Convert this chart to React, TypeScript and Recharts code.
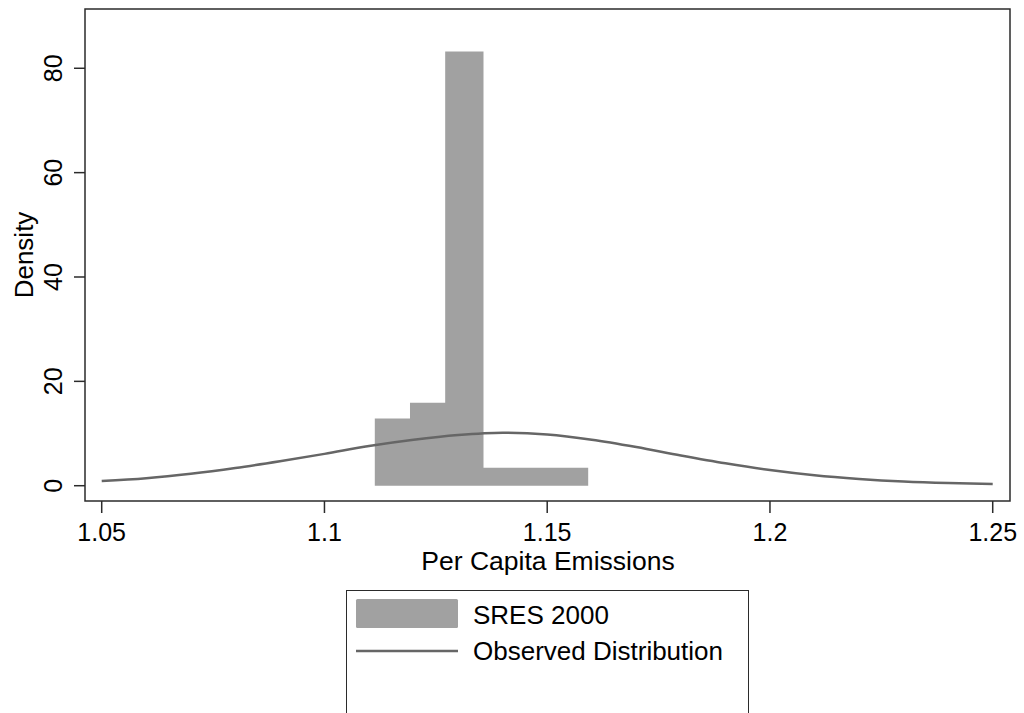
import {
  Area,
  ComposedChart,
  Legend,
  Line,
  ReferenceArea,
  XAxis,
  YAxis,
} from "recharts";

// histogram bins (edges + density heights)
const binEdges = [1.1113, 1.1192, 1.1271, 1.1357, 1.1435, 1.1514, 1.1592];
const binDensity = [12.9, 15.9, 83.2, 3.45, 3.45, 3.45];

// observed distribution curve, sampled every 0.01
const curveX = [
  1.05, 1.06, 1.07, 1.08, 1.09, 1.1, 1.11, 1.12, 1.13, 1.14, 1.15, 1.16, 1.17,
  1.18, 1.19, 1.2, 1.21, 1.22, 1.23, 1.24, 1.25,
];
const curveY = [
  0.9, 1.45, 2.3, 3.4, 4.7, 6.1, 7.6, 8.8, 9.7, 10.15, 9.8, 8.8, 7.4, 5.8, 4.3,
  3.0, 2.0, 1.3, 0.8, 0.5, 0.33,
];

const xTicks = [1.05, 1.1, 1.15, 1.2, 1.25];
const yTicks = [0, 20, 40, 60, 80];
const xDomain = [1.04625, 1.25388];
const yDomain = [-2.93, 91.36];

const FONT = '"Liberation Sans", Arial, Helvetica, sans-serif';
const BAR = "#a1a1a1";
const CURVE = "#666666";
const FRAME = "#2b2b2b";

type Row = { x: number; hist: number | null; dens: number | null };

const rows: Row[] = [];
binEdges.forEach((x, i) => {
  rows.push({ x, hist: binDensity[Math.min(i, binDensity.length - 1)], dens: null });
});
curveX.forEach((x, i) => {
  rows.push({ x, hist: null, dens: curveY[i] });
});
rows.sort((a, b) => a.x - b.x);

function XTick(props: any) {
  const { x, payload } = props;
  return (
    <text x={x} y={541} textAnchor="middle" fontSize={25} fontFamily={FONT} fill="#000">
      {String(payload.value)}
    </text>
  );
}

function YTick(props: any) {
  const { y, payload } = props;
  const bx = 62;
  return (
    <text
      x={bx}
      y={y}
      transform={`rotate(-90, ${bx}, ${y})`}
      textAnchor="middle"
      fontSize={25}
      fontFamily={FONT}
      fill="#000"
    >
      {String(payload.value)}
    </text>
  );
}

function LegendBox() {
  return (
    <div
      style={{
        width: 403,
        height: 123,
        boxSizing: "border-box",
        border: `1.5px solid ${FRAME}`,
        borderBottom: "none",
        background: "#fff",
      }}
    >
      <svg width={400} height={122} style={{ display: "block", marginLeft: -1.5, marginTop: -1.5 }}>
        <rect x={10} y={9} width={102} height={29} rx={1.5} fill={BAR} />
        <text x={127} y={34} fontSize={26} fontFamily={FONT} fill="#000">
          SRES 2000
        </text>
        <line x1={10} x2={112} y1={61} y2={61} stroke={CURVE} strokeWidth={2.5} />
        <text x={127} y={70} fontSize={26} fontFamily={FONT} fill="#000">
          Observed Distribution
        </text>
      </svg>
    </div>
  );
}

export default function App() {
  return (
    <div style={{ position: "absolute", left: 0, top: 0, background: "#fff" }}>
      <ComposedChart
        width={1024}
        height={713}
        data={rows}
        margin={{ top: 9, right: 14, bottom: 0, left: 0 }}
      >
        <XAxis
          dataKey="x"
          type="number"
          domain={xDomain}
          allowDataOverflow
          ticks={xTicks}
          tick={<XTick />}
          tickSize={12}
          tickLine={{ stroke: FRAME, strokeWidth: 1.5 }}
          axisLine={false}
          height={212}
          label={{
            content: () => (
              <text x={548} y={570} textAnchor="middle" fontSize={26.5} fontFamily={FONT} fill="#000">
                Per Capita Emissions
              </text>
            ),
          }}
        />
        <YAxis
          type="number"
          domain={yDomain}
          allowDataOverflow
          ticks={yTicks}
          tick={<YTick />}
          tickSize={11}
          tickLine={{ stroke: FRAME, strokeWidth: 1.5 }}
          axisLine={false}
          width={85}
          label={{
            content: () => (
              <text
                x={33}
                y={255}
                transform="rotate(-90, 33, 255)"
                textAnchor="middle"
                fontSize={26}
                fontFamily={FONT}
                fill="#000"
              >
                Density
              </text>
            ),
          }}
        />
        <Legend
          layout="vertical"
          align="center"
          verticalAlign="middle"
          content={<LegendBox />}
          wrapperStyle={{ left: 346, top: 590, width: 403, height: 123 }}
        />
        <Area
          type="stepAfter"
          dataKey="hist"
          baseValue={0}
          stroke="none"
          fill={BAR}
          fillOpacity={1}
          connectNulls
          isAnimationActive={false}
        />
        <Line
          type="monotone"
          dataKey="dens"
          stroke={CURVE}
          strokeWidth={2.5}
          dot={false}
          activeDot={false}
          connectNulls
          isAnimationActive={false}
        />
        <ReferenceArea
          x1={xDomain[0]}
          x2={xDomain[1]}
          y1={yDomain[0]}
          y2={yDomain[1]}
          fill="none"
          fillOpacity={0}
          stroke={FRAME}
          strokeWidth={1.5}
          ifOverflow="visible"
        />
      </ComposedChart>
    </div>
  );
}
